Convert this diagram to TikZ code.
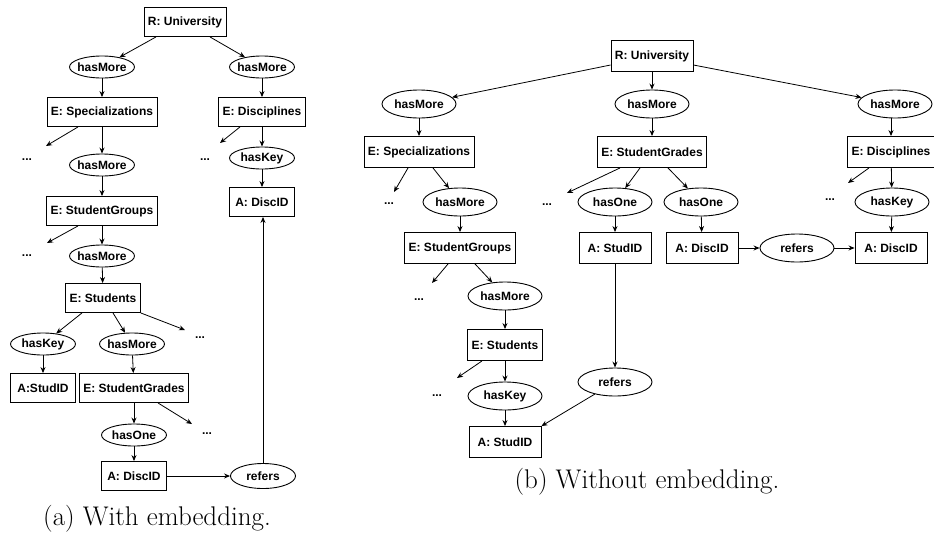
\documentclass[tikz,border=0pt]{standalone}
\usepackage{fontspec}
\newfontfamily\diagfont{Liberation Sans}
\usetikzlibrary{shapes.geometric,arrows.meta}

\tikzset{
  ent/.style={draw, rectangle, line width=0.9pt, font=\diagfont\bfseries\fontsize{12}{14}\selectfont,
    minimum width=65pt, minimum height=29pt, inner xsep=4pt, inner ysep=0pt},
  rel/.style={draw, ellipse, line width=0.9pt, font=\diagfont\bfseries\fontsize{12}{14}\selectfont,
    minimum width=65pt, minimum height=22pt, inner xsep=-2pt, inner ysep=0pt},
  more/.style={font=\diagfont\bfseries\fontsize{12}{14}\selectfont},
  link/.style={-{Stealth[length=6pt,width=5pt]}, line width=0.8pt},
  caption/.style={font=\fontsize{27}{32}\selectfont, anchor=base},
}

\begin{document}
\begin{tikzpicture}[x=1pt, y=-1pt]
    \useasboundingbox (0,0) rectangle (934,533);

    % (a) With embedding
    \node[ent] (uniA) at (185,22) {R: University};
    \node[rel] (hmA1) at (102,67) {hasMore};
    \node[rel] (hmA2) at (262,67) {hasMore};
    \node[ent] (specA) at (102,112) {E: Specializations};
    \node[ent] (discA) at (262,112) {E: Disciplines};
    \node[rel] (hmA3) at (102,165) {hasMore};
    \node[rel] (hkA1) at (262,158) {hasKey};
    \node[ent] (didA1) at (262,202) {A: DiscID};
    \node[ent] (sgA) at (102,211) {E: StudentGroups};
    \node[rel] (hmA4) at (102,256) {hasMore};
    \node[ent] (stA) at (103,298) {E: Students};
    \node[rel] (hkA2) at (43,344) {hasKey};
    \node[rel] (hmA5) at (132,344) {hasMore};
    \node[ent] (sidA) at (43,388) {A:StudID};
    \node[ent] (sgrA) at (134,388) {E: StudentGrades};
    \node[rel] (hoA) at (134,435) {hasOne};
    \node[ent] (didA2) at (134,476) {A: DiscID};
    \node[rel, minimum height=25pt] (refA) at (263,476) {refers};

    % dots and open arrow ends
    \node[more] (dA1) at (27,160) {...};
    \node[more] (dA2) at (27,256) {...};
    \node[more] (dA3) at (205,160) {...};
    \node[more] (dA4) at (200,338) {...};
    \node[more] (dA5) at (207,434) {...};
    \coordinate (eA1) at (46,146);
    \coordinate (eA2) at (47,243);
    \coordinate (eA3) at (220,143);
    \coordinate (eA4) at (185,330);
    \coordinate (eA5) at (192,424);

    \draw[link] ([xshift=-29pt]uniA.south) -- (hmA1);
    \draw[link] ([xshift=25pt]uniA.south) -- (hmA2);
    \draw[link] (hmA1) -- (specA);
    \draw[link] (hmA2) -- (discA);
    \draw[link] ([xshift=-24pt]specA.south) -- (eA1);
    \draw[link] (specA) -- (hmA3);
    \draw[link] (hmA3) -- (sgA);
    \draw[link] ([xshift=-22pt]discA.south) -- (eA3);
    \draw[link] (discA) -- (hkA1);
    \draw[link] (hkA1) -- (didA1);
    \draw[link] ([xshift=-24pt]sgA.south) -- (eA2);
    \draw[link] (sgA) -- (hmA4);
    \draw[link] (hmA4) -- (stA);
    \draw[link] ([xshift=-21pt]stA.south) -- (hkA2);
    \draw[link] ([xshift=10pt]stA.south) -- (hmA5);
    \draw[link] (stA.south east) -- (eA4);
    \draw[link] (hkA2) -- (sidA);
    \draw[link] (hmA5) -- (sgrA);
    \draw[link] ([xshift=24pt]sgrA.south) -- (eA5);
    \draw[link] (sgrA) -- (hoA);
    \draw[link] (hoA) -- (didA2);
    \draw[link] (didA2) -- (refA);
    \draw[link] (refA.north) -- (refA.north |- didA1.south);

    \node[caption] (capA) at (157,525) {(a) With embedding.};

    % (b) Without embedding
    \begin{scope}[rel/.append style={minimum width=74pt, minimum height=28pt},
                  ent/.append style={minimum width=72pt, minimum height=31pt}]
    \node[ent] (uniB) at (652,56) {R: University};
    \node[rel] (hmB1) at (419,104) {hasMore};
    \node[rel] (hmB2) at (652,104) {hasMore};
    \node[rel] (hmB3) at (895,104) {hasMore};
    \node[ent] (specB) at (419,152) {E: Specializations};
    \node[ent] (sgrB) at (652,152) {E: StudentGrades};
    \node[ent] (discB) at (891,152) {E: Disciplines};
    \node[rel] (hmB4) at (460,202) {hasMore};
    \node[rel] (hoB1) at (615,202) {hasOne};
    \node[rel] (hoB2) at (701,202) {hasOne};
    \node[rel] (hkB1) at (892,202) {hasKey};
    \node[ent] (sgB) at (460,248) {E: StudentGroups};
    \node[ent] (sidB1) at (615,248) {A: StudID};
    \node[ent] (didB1) at (702,248) {A: DiscID};
    \node[rel] (refB1) at (797,248) {refers};
    \node[ent] (didB2) at (891,248) {A: DiscID};
    \node[rel] (hmB5) at (505,296) {hasMore};
    \node[ent] (stB) at (505,345) {E: Students};
    \node[rel] (refB2) at (615,382) {refers};
    \node[rel] (hkB2) at (505,396) {hasKey};
    \node[ent] (sidB2) at (505,442) {A: StudID};
    \end{scope}

    % dots and open arrow ends
    \node[more] (dB1) at (389,204) {...};
    \node[more] (dB2) at (419,300) {...};
    \node[more] (dB3) at (437,396) {...};
    \node[more] (dB4) at (547,205) {...};
    \node[more] (dB5) at (830,200) {...};
    \coordinate (eB1) at (394,192);
    \coordinate (eB2) at (432,283);
    \coordinate (eB3) at (457,378);
    \coordinate (eB4) at (567,193);
    \coordinate (eB5) at (848,183);

    \draw[link] ([yshift=-9pt]uniB.west) -- (hmB1);
    \draw[link] (uniB) -- (hmB2);
    \draw[link] ([yshift=-9pt]uniB.east) -- (hmB3);
    \draw[link] (hmB1) -- (specB);
    \draw[link] (hmB2) -- (sgrB);
    \draw[link] (hmB3.south -| discB.north) -- (discB.north);
    \draw[link] ([xshift=-11pt]specB.south) -- (eB1);
    \draw[link] ([xshift=14pt]specB.south) -- (hmB4);
    \draw[link] (hmB4) -- (sgB);
    \draw[link] ([xshift=-12pt]sgB.south) -- (eB2);
    \draw[link] ([xshift=15pt]sgB.south) -- (hmB5);
    \draw[link] (hmB5) -- (stB);
    \draw[link] ([xshift=-23pt]stB.south) -- (eB3);
    \draw[link] (stB) -- (hkB2);
    \draw[link] (hkB2) -- (sidB2);
    \draw[link] ([xshift=-32pt]sgrB.south) -- (eB4);
    \draw[link] ([xshift=-12pt]sgrB.south) -- (hoB1);
    \draw[link] ([xshift=16pt]sgrB.south) -- (hoB2);
    \draw[link] (hoB1) -- (sidB1);
    \draw[link] (hoB2) -- (didB1);
    \draw[link] (didB1) -- (refB1);
    \draw[link] (refB1) -- (didB2);
    \draw[link] ([xshift=-22pt]discB.south) -- (eB5);
    \draw[link] (discB) -- (hkB1);
    \draw[link] (hkB1) -- (didB2);
    \draw[link] (sidB1) -- (refB2);
    \draw[link] (refB2) -- (sidB2.north east);

    \node[caption] (capB) at (647,488) {(b) Without embedding.};
\end{tikzpicture}
\end{document}
